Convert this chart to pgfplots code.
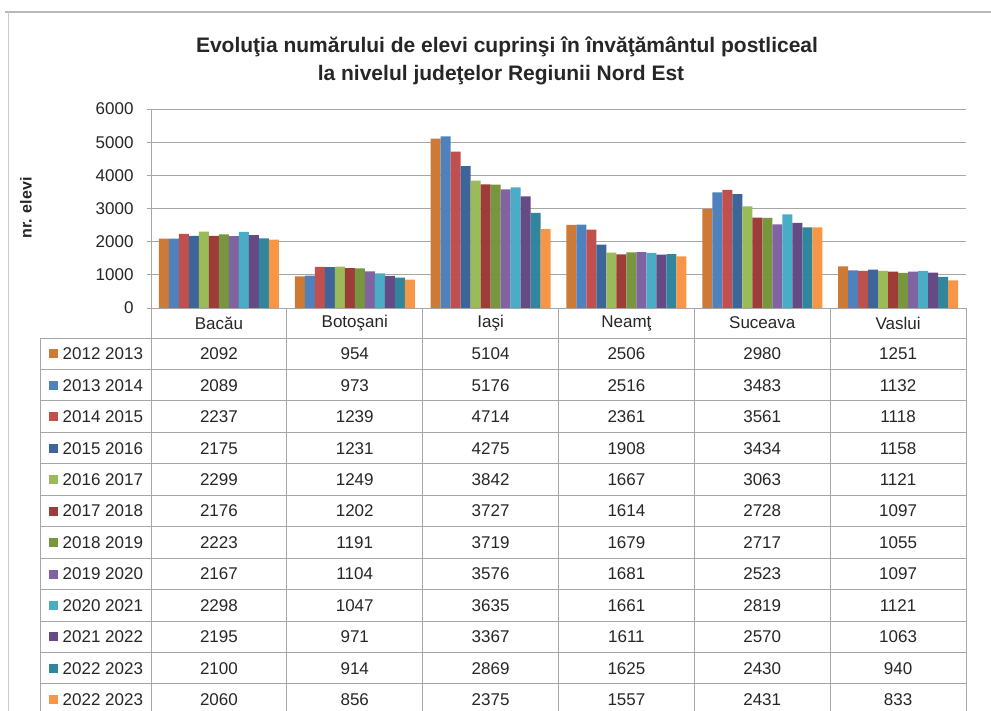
\documentclass[border=0pt]{standalone}
\usepackage{fontspec}
\setmainfont{Liberation Sans}
\usepackage{pgfplots}
\pgfplotsset{compat=1.18}
\usepackage{pgfplotstable}

\definecolor{c1}{HTML}{CC7A36}
\definecolor{c2}{HTML}{4F81BD}
\definecolor{c3}{HTML}{C0504D}
\definecolor{c4}{HTML}{3D6599}
\definecolor{c5}{HTML}{9BBB59}
\definecolor{c6}{HTML}{9E3C3A}
\definecolor{c7}{HTML}{77963E}
\definecolor{c8}{HTML}{8064A2}
\definecolor{c9}{HTML}{4BACC6}
\definecolor{c10}{HTML}{654A85}
\definecolor{c11}{HTML}{31869E}
\definecolor{c12}{HTML}{F79646}
\definecolor{gridc}{HTML}{A6A6A6}
\definecolor{txt}{HTML}{262626}

\pgfplotstableread{
idx s1 s2 s3 s4 s5 s6 s7 s8 s9 s10 s11 s12
0.5 2092 2089 2237 2175 2299 2176 2223 2167 2298 2195 2100 2060
1.5 954 973 1239 1231 1249 1202 1191 1104 1047 971 914 856
2.5 5104 5176 4714 4275 3842 3727 3719 3576 3635 3367 2869 2375
3.5 2506 2516 2361 1908 1667 1614 1679 1681 1661 1611 1625 1557
4.5 2980 3483 3561 3434 3063 2728 2717 2523 2819 2570 2430 2431
5.5 1251 1132 1118 1158 1121 1097 1055 1097 1121 1063 940 833
}\datatable

\begin{document}
\begin{tikzpicture}[x=1pt,y=1pt]
\path[use as bounding box] (0,0) rectangle (991,711);
% outer chart frame
\draw[gray!55, line width=1.2pt] (5,699) -- (991,699);
\draw[gray!40, line width=1pt] (8,699) -- (8,0);
% title
\node[text=txt, font=\fontsize{21}{24}\selectfont\bfseries] at (507,664) {Evoluţia numărului de elevi cuprinşi în învăţământul postliceal};
\node[text=txt, font=\fontsize{21}{24}\selectfont\bfseries] at (501,636) {la nivelul judeţelor Regiunii Nord Est};
% y label
\node[text=txt, font=\fontsize{16}{18}\selectfont\bfseries, rotate=90] at (26,503) {nr. elevi};

\begin{axis}[
  at={(151pt,403pt)}, anchor=south west,
  scale only axis, width=815pt, height=199pt,
  xmin=0, xmax=6, ymin=0, ymax=6000,
  ybar=0pt, bar width=10pt,
  xtick=\empty,
  ytick={0,1000,...,6000},
  ymajorgrids, grid style={gridc, line width=0.9pt},
  axis x line*=bottom, axis y line*=left,
  axis line style={gridc, line width=0.9pt, -},
  major tick length=4pt, tick align=outside,
  ytick style={gridc, line width=0.9pt},
  yticklabel style={text=txt, font=\fontsize{17}{18}\selectfont, xshift=-10pt},
  /pgf/number format/assume math mode=true,
  /pgf/number format/1000 sep={},
  clip=false,
]
\pgfplotsinvokeforeach{1,...,12}{
  \addplot[fill=c#1, draw=none] table[x=idx, y=s#1]{\datatable};
}
\end{axis}

% data table grid
\begin{scope}[gridc, line width=0.9pt]
\draw (40,373) -- (966,373);
\foreach \k in {1,...,11} { \draw (40,{373-31.45*\k}) -- (966,{373-31.45*\k}); }
\draw (40,373) -- (40,0);
\foreach \xx in {151,286.8,422.7,558.5,694.3,830.2,966} { \draw (\xx,403) -- (\xx,0); }
\end{scope}
% header
\foreach \nm [count=\c from 0] in {Bacău,Botoşani,Iaşi,Neamţ,Suceava,Vaslui} {
  \node[text=txt, font=\fontsize{17}{18}\selectfont] at ({151+135.83*(\c+0.5)},388) {\nm};
}
% rows
\foreach \lab [count=\r from 1] in {2012 2013,2013 2014,2014 2015,2015 2016,2016 2017,2017 2018,2018 2019,2019 2020,2020 2021,2021 2022,2022 2023,2022 2023} {
  \pgfmathsetmacro\yy{373-31.45*(\r-1)-15.9}
  \fill[c\r] (49,\yy-4.5) rectangle (58,\yy+4.5);
  \node[text=txt, font=\fontsize{17}{18}\selectfont, anchor=west, inner sep=0pt] at (62.5,\yy) {\lab};
  \foreach \c in {0,...,5} {
    \pgfplotstablegetelem{\c}{s\r}\of\datatable
    \node[text=txt, font=\fontsize{17}{18}\selectfont] at ({151+135.83*(\c+0.5)},\yy) {\pgfplotsretval};
  }
}
\end{tikzpicture}
\end{document}
